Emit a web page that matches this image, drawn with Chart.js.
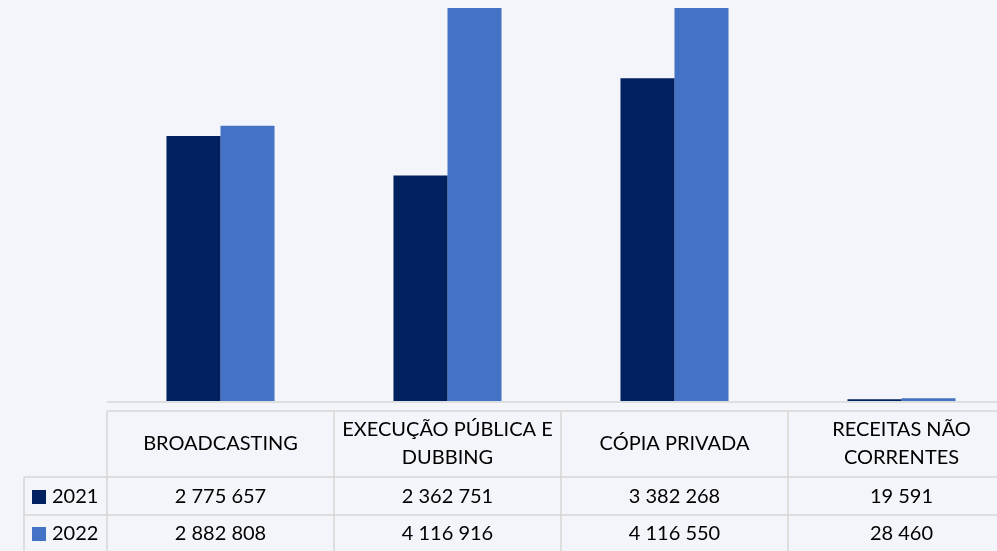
<!DOCTYPE html>
<html>
<head>
<meta charset="utf-8">
<script src="https://cdn.jsdelivr.net/npm/chart.js@4"></script>
<style>
  html, body { margin: 0; padding: 0; background: #f4f5fa; overflow: hidden; }
  #wrap { width: 1015px; height: 551px; position: relative; }
</style>
</head>
<body>
<div id="wrap"><canvas id="chart"></canvas></div>
<script>
// chart data
const categories = [
    ['BROADCASTING'],
    ['EXECUÇÃO PÚBLICA E', 'DUBBING'],
    ['CÓPIA PRIVADA'],
    ['RECEITAS NÃO', 'CORRENTES']
];
const seriesNames = ['2021', '2022'];
const values2021 = [2775657, 2362751, 3382268, 19591];
const values2022 = [2882808, 4116916, 4116550, 28460];
const seriesColors = ['#002060', '#4472C4'];

const bg = '#f4f5fa';
const lineColor = '#d6d6d6';
const fontFamily = 'Lato, "Noto Sans", sans-serif';

function fmt(v) {
    return String(v).replace(/\B(?=(\d{3})+(?!\d))/g, ' ');
}

// draws the data table under the bars, using the x scale for columns
const dataTable = {
    id: 'dataTable',
    beforeDraw(chart) {
        const ctx = chart.ctx;
        ctx.save();
        ctx.fillStyle = bg;
        ctx.fillRect(0, 0, chart.width, chart.height);
        ctx.restore();
    },
    afterDraw(chart) {
        const ctx = chart.ctx;
        const area = chart.chartArea;
        const x = chart.scales.x;
        const colW = (area.right - area.left) / categories.length;
        const headTop = 411, row1 = 477, row2 = 515, bottom = chart.height + 2;
        const labelLeft = 24;

        ctx.save();
        // axis line
        ctx.strokeStyle = lineColor;
        ctx.lineWidth = 1.5;
        ctx.beginPath();
        ctx.moveTo(area.left, area.bottom + 1);
        ctx.lineTo(area.right, area.bottom + 1);
        ctx.stroke();

        // table grid
        ctx.beginPath();
        ctx.moveTo(area.left, headTop); ctx.lineTo(area.right, headTop);
        ctx.moveTo(labelLeft, row1); ctx.lineTo(area.right, row1);
        ctx.moveTo(labelLeft, row2); ctx.lineTo(area.right, row2);
        ctx.moveTo(labelLeft, row1); ctx.lineTo(labelLeft, bottom);
        for (let i = 0; i <= categories.length; i++) {
            const cx = area.left + i * colW;
            ctx.moveTo(cx, headTop); ctx.lineTo(cx, bottom);
        }
        ctx.stroke();

        // header text
        ctx.fillStyle = '#000';
        ctx.font = '20px ' + fontFamily;
        ctx.textAlign = 'center';
        ctx.textBaseline = 'middle';
        const headMid = (headTop + row1) / 2;
        categories.forEach((lines, i) => {
            const cx = x.getPixelForValue(i);
            const lh = 28;
            const y0 = headMid - (lines.length - 1) * lh / 2;
            lines.forEach((t, j) => ctx.fillText(t, cx, y0 + j * lh));
        });

        // value rows
        const rows = [values2021, values2022];
        const rowMids = [497, 534];
        rows.forEach((vals, r) => {
            vals.forEach((v, i) => {
                ctx.fillText(fmt(v), x.getPixelForValue(i), rowMids[r]);
            });
            // legend key
            ctx.fillStyle = seriesColors[r];
            ctx.fillRect(32, rowMids[r] - 7, 14, 14);
            ctx.fillStyle = '#000';
            ctx.textAlign = 'left';
            ctx.fillText(seriesNames[r], 52, rowMids[r]);
            ctx.textAlign = 'center';
        });
        ctx.restore();
    }
};

new Chart(document.querySelector('#chart').getContext('2d'), {
    type: 'bar',
    data: {
        labels: categories,
        datasets: [
            { label: seriesNames[0], data: values2021, backgroundColor: seriesColors[0] },
            { label: seriesNames[1], data: values2022, backgroundColor: seriesColors[1] }
        ]
    },
    options: {
        responsive: true,
        maintainAspectRatio: false,
        animation: false,
        layout: { padding: { left: 107, top: 8, bottom: 150, right: 0 } },
        datasets: { bar: { barPercentage: 1, categoryPercentage: 0.476 } },
        scales: {
            x: { display: false },
            y: { display: false, min: 0, max: Math.max(...values2021, ...values2022) }
        },
        plugins: {
            legend: { display: false },
            tooltip: { enabled: false }
        }
    },
    plugins: [dataTable]
});
</script>
</body>
</html>
